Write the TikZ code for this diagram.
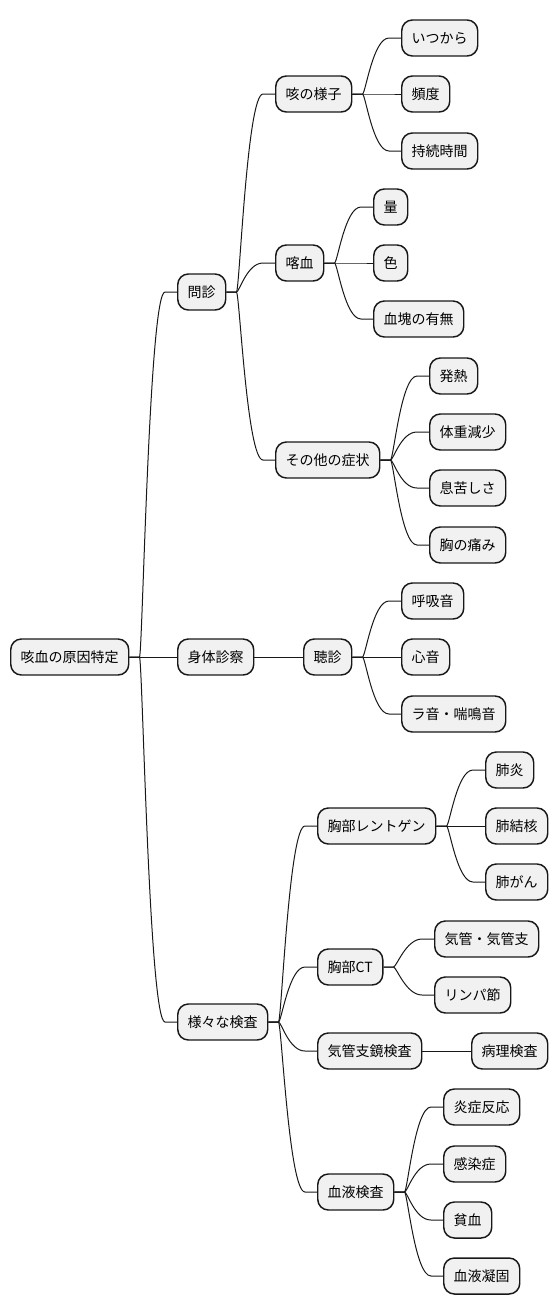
\documentclass[tikz,border=0pt]{standalone}
\usepackage{fontspec}
\usepackage{tikz}
\usetikzlibrary{calc}
\newfontfamily\jpfont{Noto Sans CJK JP}
\definecolor{boxfill}{HTML}{F1F1F1}
\definecolor{boxline}{HTML}{181818}

\begin{document}
\begin{tikzpicture}[x=0.75pt,y=-0.75pt,
   topic/.style={draw=boxline,fill=boxfill,line width=1.1pt,rounded corners=8pt,anchor=west,
     inner xsep=7.5pt,inner ysep=0pt,minimum height=27pt,font=\jpfont\fontsize{10.5}{12}\selectfont},
   branch/.style={draw=boxline,line width=0.75pt,
     to path={-- ++(10,0) .. controls +(3,0) and +(-16,0) .. ($(\tikztotarget)+(-12,0)$) -- (\tikztotarget)}}]
\useasboundingbox (0,0) rectangle (558,1315);
% root and first level
\node[topic] (root) at (10,657) {咳血の原因特定};
\node[topic] (monshin) at (177,292) {問診};
\node[topic] (shinsatsu) at (177,657) {身体診察};
\node[topic] (kensa) at (177,1022) {様々な検査};
% 問診
\node[topic] (seki) at (275,94) {咳の様子};
\node[topic] (kakketsu) at (275,263) {喀血};
\node[topic] (sonota) at (275,460) {その他の症状};
\node[topic] (itsu) at (401,38) {いつから};
\node[topic] (hindo) at (401,94) {頻度};
\node[topic] (jikan) at (401,151) {持続時間};
\node[topic] (ryo) at (373,207) {量};
\node[topic] (iro) at (373,263) {色};
\node[topic] (kekkai) at (373,319) {血塊の有無};
\node[topic] (netsu) at (429,376) {発熱};
\node[topic] (taiju) at (429,432) {体重減少};
\node[topic] (iki) at (429,488) {息苦しさ};
\node[topic] (mune) at (429,545) {胸の痛み};
% 身体診察
\node[topic] (choshin) at (303,657) {聴診};
\node[topic] (kokyu) at (401,601) {呼吸音};
\node[topic] (shinon) at (401,657) {心音};
\node[topic] (raon) at (401,714) {ラ音・喘鳴音};
% 様々な検査
\node[topic] (xray) at (317,826) {胸部レントゲン};
\node[topic] (ct) at (317,967) {胸部CT};
\node[topic] (kyo) at (317,1051) {気管支鏡検査};
\node[topic] (blood) at (317,1192) {血液検査};
\node[topic] (haien) at (485,770) {肺炎};
\node[topic] (kekkaku) at (485,826) {肺結核};
\node[topic] (haigan) at (485,882) {肺がん};
\node[topic] (kikan) at (434,939) {気管・気管支};
\node[topic] (rinpa) at (434,995) {リンパ節};
\node[topic] (byori) at (471,1051) {病理検査};
\node[topic] (ensho) at (443,1107) {炎症反応};
\node[topic] (kansen) at (443,1164) {感染症};
\node[topic] (hinketsu) at (443,1220) {貧血};
\node[topic] (gyoko) at (443,1276) {血液凝固};
% branches
\foreach \a/\b in {root/monshin,root/shinsatsu,root/kensa,
    monshin/seki,monshin/kakketsu,monshin/sonota,
    seki/itsu,seki/hindo,seki/jikan,
    kakketsu/ryo,kakketsu/iro,kakketsu/kekkai,
    sonota/netsu,sonota/taiju,sonota/iki,sonota/mune,
    shinsatsu/choshin,choshin/kokyu,choshin/shinon,choshin/raon,
    kensa/xray,kensa/ct,kensa/kyo,kensa/blood,
    xray/haien,xray/kekkaku,xray/haigan,
    ct/kikan,ct/rinpa,kyo/byori,
    blood/ensho,blood/kansen,blood/hinketsu,blood/gyoko}
  \draw[branch] (\a.east) to (\b.west);
\end{tikzpicture}
\end{document}
